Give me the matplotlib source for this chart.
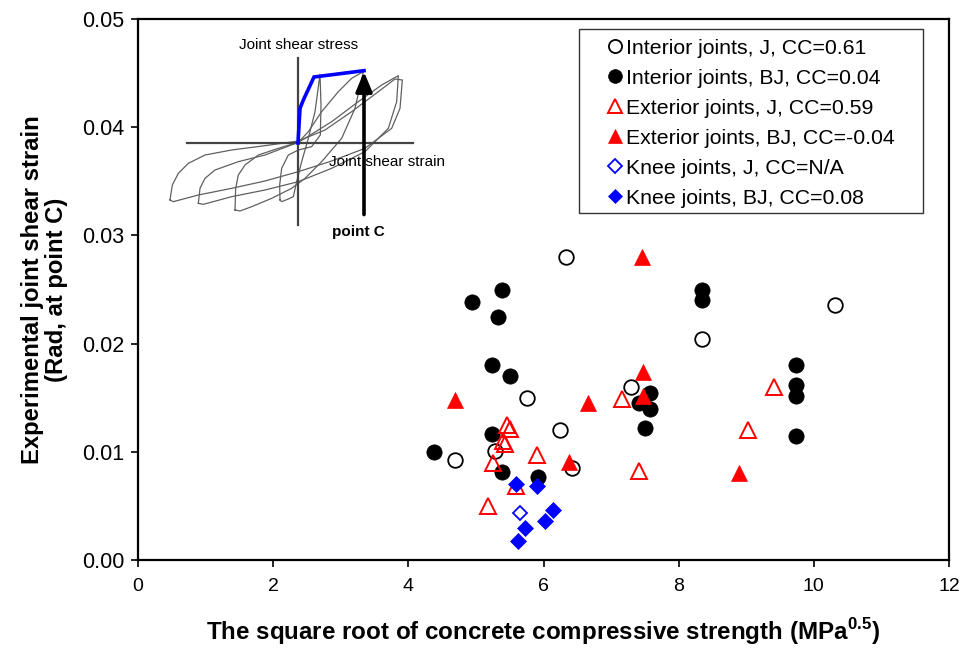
import matplotlib
matplotlib.use('Agg')
import matplotlib.pyplot as plt
from matplotlib.patches import Rectangle

plt.rcParams['font.family'] = ['Liberation Sans', 'DejaVu Sans']
plt.rcParams['mathtext.fontset'] = 'custom'
plt.rcParams['mathtext.rm'] = 'Liberation Sans'
plt.rcParams['mathtext.bf'] = 'Liberation Sans:bold'

# ---------------- data ----------------
int_j_x = [6.33, 10.32, 8.35, 7.29, 5.75, 6.24, 5.28, 4.69, 6.42]
int_j_y = [0.0280, 0.0236, 0.0204, 0.0160, 0.0150, 0.0120, 0.0101, 0.0092, 0.0085]

int_bj_x = [5.38, 4.94, 5.32, 5.24, 5.51, 5.24, 4.38, 5.38, 5.92,
            8.35, 8.35, 7.57, 7.42, 7.57, 7.50, 9.74, 9.74, 9.74, 9.74]
int_bj_y = [0.0250, 0.0238, 0.0225, 0.0180, 0.0170, 0.0116, 0.0100, 0.0081, 0.0077,
            0.0250, 0.0240, 0.0154, 0.0145, 0.0140, 0.0122, 0.0180, 0.0162, 0.0152, 0.0115]

ext_j_x = [5.46, 5.51, 5.40, 5.43, 5.26, 5.90, 5.60, 5.18, 7.16, 7.41, 9.41, 9.02]
ext_j_y = [0.0125, 0.0121, 0.0110, 0.0107, 0.0090, 0.0097, 0.0068, 0.0050, 0.0149, 0.0082, 0.0160, 0.0120]

ext_bj_x = [7.46, 7.47, 7.47, 4.69, 6.66, 6.38, 8.89]
ext_bj_y = [0.0280, 0.0174, 0.0152, 0.0148, 0.0145, 0.0091, 0.0080]

knee_j_x = [5.65]
knee_j_y = [0.0043]

knee_bj_x = [5.60, 5.91, 6.14, 6.02, 5.72, 5.63]
knee_bj_y = [0.0070, 0.0068, 0.0046, 0.0036, 0.0030, 0.0018]

labels = ['Interior joints, J, CC=0.61', 'Interior joints, BJ, CC=0.04',
          'Exterior joints, J, CC=0.59', 'Exterior joints, BJ, CC=-0.04',
          'Knee joints, J, CC=N/A', 'Knee joints, BJ, CC=0.08']

x_ticks = [0, 2, 4, 6, 8, 10, 12]
y_ticks = [0.00, 0.01, 0.02, 0.03, 0.04, 0.05]

# inset sketch (schematic hysteresis), coordinates in sketch units
loop1_x = [345, 350, 370, 385, 395, 410, 430, 450, 465, 468, 466, 440, 400, 370, 350, 344, 345]
loop1_y = [435, 440, 432, 425, 380, 320, 250, 170, 58, 150, 240, 275, 285, 300, 340, 390, 435]
loop2_x = [210, 225, 260, 320, 380, 420, 470, 530, 570, 595, 560, 520, 470, 430, 400, 340, 280, 240, 220, 212, 210]
loop2_y = [465, 468, 455, 430, 400, 370, 320, 250, 160, 50, 70, 110, 170, 230, 262, 280, 300, 330, 360, 400, 465]
loop3_x = [100, 115, 200, 300, 400, 500, 600, 670, 695, 700, 650, 580, 500, 420, 400, 300, 220, 150, 120, 105, 100]
loop3_y = [445, 448, 425, 405, 380, 340, 290, 220, 140, 62, 90, 140, 200, 250, 262, 300, 320, 345, 370, 400, 445]
loop4_x = [15, 25, 100, 200, 300, 400, 500, 600, 680, 705, 712, 690, 640, 560, 480, 400, 300, 200, 120, 70, 40, 22, 15]
loop4_y = [435, 440, 420, 400, 378, 350, 318, 280, 220, 160, 75, 72, 110, 170, 225, 258, 272, 285, 300, 325, 355, 390, 435]
blue_x = [399, 405, 415, 447, 597]
blue_y = [264, 160, 135, 66, 47]

# ---------------- figure ----------------
fig = plt.figure(figsize=(9.64, 6.5), dpi=100)
ax = fig.add_axes([138 / 964, 1 - 560 / 650, 811 / 964, 541 / 650])

ax.plot(int_j_x, int_j_y, ls='none', marker='o', ms=10.5, mfc='none', mec='black', mew=1.3, label=labels[0])
ax.plot(int_bj_x, int_bj_y, ls='none', marker='o', ms=11, mfc='black', mec='black', mew=0.5, label=labels[1])
ax.plot(ext_j_x, ext_j_y, ls='none', marker='^', ms=11, mfc='none', mec='red', mew=1.4, label=labels[2])
ax.plot(ext_bj_x, ext_bj_y, ls='none', marker='^', ms=11, mfc='red', mec='red', mew=0.5, label=labels[3])
ax.plot(knee_j_x, knee_j_y, ls='none', marker='D', ms=7.5, mfc='none', mec='blue', mew=1.3, label=labels[4])
ax.plot(knee_bj_x, knee_bj_y, ls='none', marker='D', ms=8, mfc='blue', mec='blue', mew=0.5, label=labels[5])

ax.set_xlim(0, 12)
ax.set_ylim(0, 0.05)
ax.set_xticks(x_ticks)
ax.set_xticklabels([str(t) for t in x_ticks])
ax.set_yticks(y_ticks)
ax.set_yticklabels(['%.2f' % t for t in y_ticks])
ax.tick_params(axis='both', direction='out', length=5, width=1.2)
ax.tick_params(axis='x', pad=8, labelsize=14)
ax.tick_params(axis='y', pad=5, labelsize=15.5)
for sp in ax.spines.values():
    sp.set_linewidth(1.6)

ax.set_xlabel(r'The square root of concrete compressive strength (MPa$^{\mathbf{0.5}}$)',
              fontsize=17.4, fontweight='bold', labelpad=15)
ax.set_ylabel('Experimental joint shear strain\n(Rad, at point C)',
              fontsize=17.2, fontweight='bold', labelpad=10, linespacing=1.05)

# legend frame (Excel-style, wider left/right padding than top/bottom)
frame_left, frame_right = (579 - 138) / 811, (923 - 138) / 811
frame_bottom, frame_top = (560 - 213) / 541, (560 - 29) / 541
ax.add_patch(Rectangle((frame_left, frame_bottom), frame_right - frame_left, frame_top - frame_bottom,
                       transform=ax.transAxes, fill=True, facecolor='white', edgecolor='#333333',
                       lw=1.0, zorder=4))
leg = ax.legend(loc='upper left', bbox_to_anchor=(frame_left, frame_top), borderaxespad=0,
                fontsize=15.3, frameon=False,
                handlelength=2.5, handletextpad=-0.75, borderpad=0.45, labelspacing=0.52,
                markerscale=0.9)
leg.set_zorder(5)

# ---------------- inset sketch ----------------
ins = fig.add_axes([165 / 964, 1 - 215 / 650, 250 / 964, 160 / 650])
ins.set_xlim(0, 750)
ins.set_ylim(480, 0)
ins.axis('off')

gray = '#606060'
for lx, ly in [(loop1_x, loop1_y), (loop2_x, loop2_y), (loop3_x, loop3_y), (loop4_x, loop4_y)]:
    ins.plot(lx, ly, color=gray, lw=0.9, clip_on=False)
ins.plot([66, 744], [264, 264], color='#444444', lw=1.6, clip_on=False)
ins.plot([399, 399], [9, 510], color='#444444', lw=1.6, clip_on=False)
ins.plot(blue_x, blue_y, color='blue', lw=2.6, clip_on=False, solid_joinstyle='miter')
ins.annotate('', xy=(597, 42), xytext=(597, 487),
             arrowprops=dict(arrowstyle='-|>,head_length=1.2,head_width=0.5', color='black', lw=2.6),
             annotation_clip=False)
ins.text(402, -30, 'Joint shear stress', fontsize=11, ha='center', va='center', clip_on=False)
ins.text(492, 321, 'Joint shear strain', fontsize=11, ha='left', va='center', clip_on=False)
ins.text(580, 531, 'point C', fontsize=11, fontweight='bold', ha='center', va='center', clip_on=False)

fig.savefig('out.png', dpi=100)
